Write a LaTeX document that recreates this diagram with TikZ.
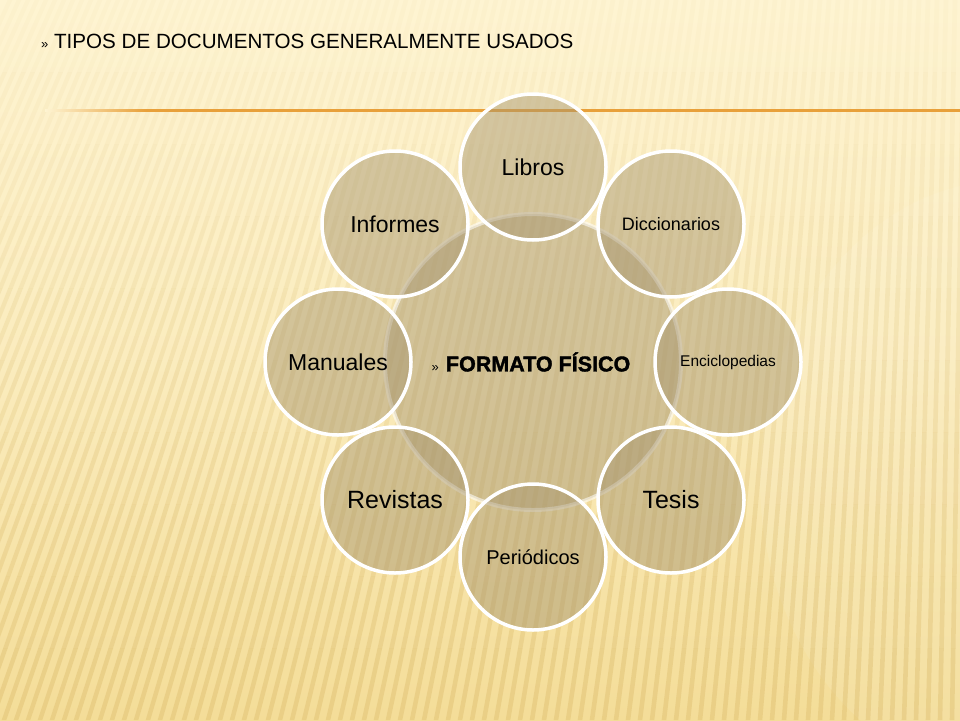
\documentclass[tikz,border=0pt]{standalone}
\usepackage{fontspec}
\setmainfont{Liberation Sans}
\newfontfamily\heavyfont{Liberation Sans}[BoldFeatures={FakeBold=1.6}]
\usetikzlibrary{calc}
\definecolor{bgtop}{RGB}{254,244,210}
\definecolor{bgbot}{RGB}{244,221,152}
\definecolor{stripe}{RGB}{212,176,92}
\definecolor{tan}{RGB}{165,148,110}
\definecolor{rule}{RGB}{232,160,58}
\pgfdeclarehorizontalshading{rulefade}{100bp}{color(0bp)=(bgtop); color(25bp)=(bgtop); color(30.5bp)=(rule); color(100bp)=(rule)}
\tikzset{
  outer/.style={circle, minimum size=146pt, inner sep=0pt, fill=tan, fill opacity=0.47,
    draw=white, line width=3.5pt, text opacity=1, text=black},
  center/.style={circle, minimum size=296pt, inner sep=0pt, fill=tan, fill opacity=0.47,
    draw=white, draw opacity=0.55, line width=4pt, text opacity=1, text=black},
  fs/.style={font=\fontsize{#1}{#1}\selectfont}
}
\begin{document}
\begin{tikzpicture}[x=1pt,y=-1pt]
\useasboundingbox (0,0) rectangle (960,720);
% background
\shade[top color=bgtop, bottom color=bgbot, middle color=bgtop!65!bgbot] (0,0) rectangle (960,720);
\fill[white, opacity=0.08] (1010,480) ellipse (250 and 300);
\begin{scope}
\clip (0,0) rectangle (960,720);
\foreach \i in {0,...,110} {
  \pgfmathsetmacro\xb{-320+\i*12}
  \pgfmathsetmacro\off{max(10,250-0.25*\xb)}
  \foreach \k in {0,...,9} {
    \pgfmathsetmacro\ya{\k*72}
    \pgfmathsetmacro\yb{(\k+1)*72}
    \pgfmathsetmacro\xa{\xb+\off*((720-\ya)/720)}
    \pgfmathsetmacro\xc{\xb+\off*((720-\yb)/720)}
    \pgfmathsetmacro\op{0.04+0.03*\k}
    \fill[stripe, opacity=\op] (\xa-2.3,\ya) -- (\xa+2.3,\ya) -- (\xc+2.3,\yb) -- (\xc-2.3,\yb) -- cycle;
  }
}
\end{scope}
% rule under title
\shade[shading=rulefade] (45,109) rectangle (960,111);
% title
\node[anchor=base west, fs=20.6, inner sep=0pt] (title) at (41,48)
  {{\fontsize{13}{13}\selectfont »} TIPOS DE DOCUMENTOS GENERALMENTE USADOS};
% central circle
\node[center] (c) at (533,362) {};
% outer circles
\node[outer, fs=23] (libros) at (533,167) {Libros};
\node[outer, fs=18] (dicc) at (671,224) {Diccionarios};
\node[outer, fs=15.5] (enc) at (728,362) {Enciclopedias};
\node[outer, fs=25] (tesis) at (671,500) {Tesis};
\node[outer, fs=20] (per) at (533,557) {Periódicos};
\node[outer, fs=25] (rev) at (395,500) {Revistas};
\node[outer, fs=23] (man) at (338,362) {Manuales};
\node[outer, fs=23] (inf) at (395,224) {Informes};
% central label
\node[anchor=center, inner sep=0pt] (clabel) at (531,362)
  {{\fontsize{13}{13}\selectfont »}\hspace{7pt}{\heavyfont\bfseries\fontsize{21.5}{21.5}\selectfont FORMATO FÍSICO}};
\end{tikzpicture}
\end{document}
